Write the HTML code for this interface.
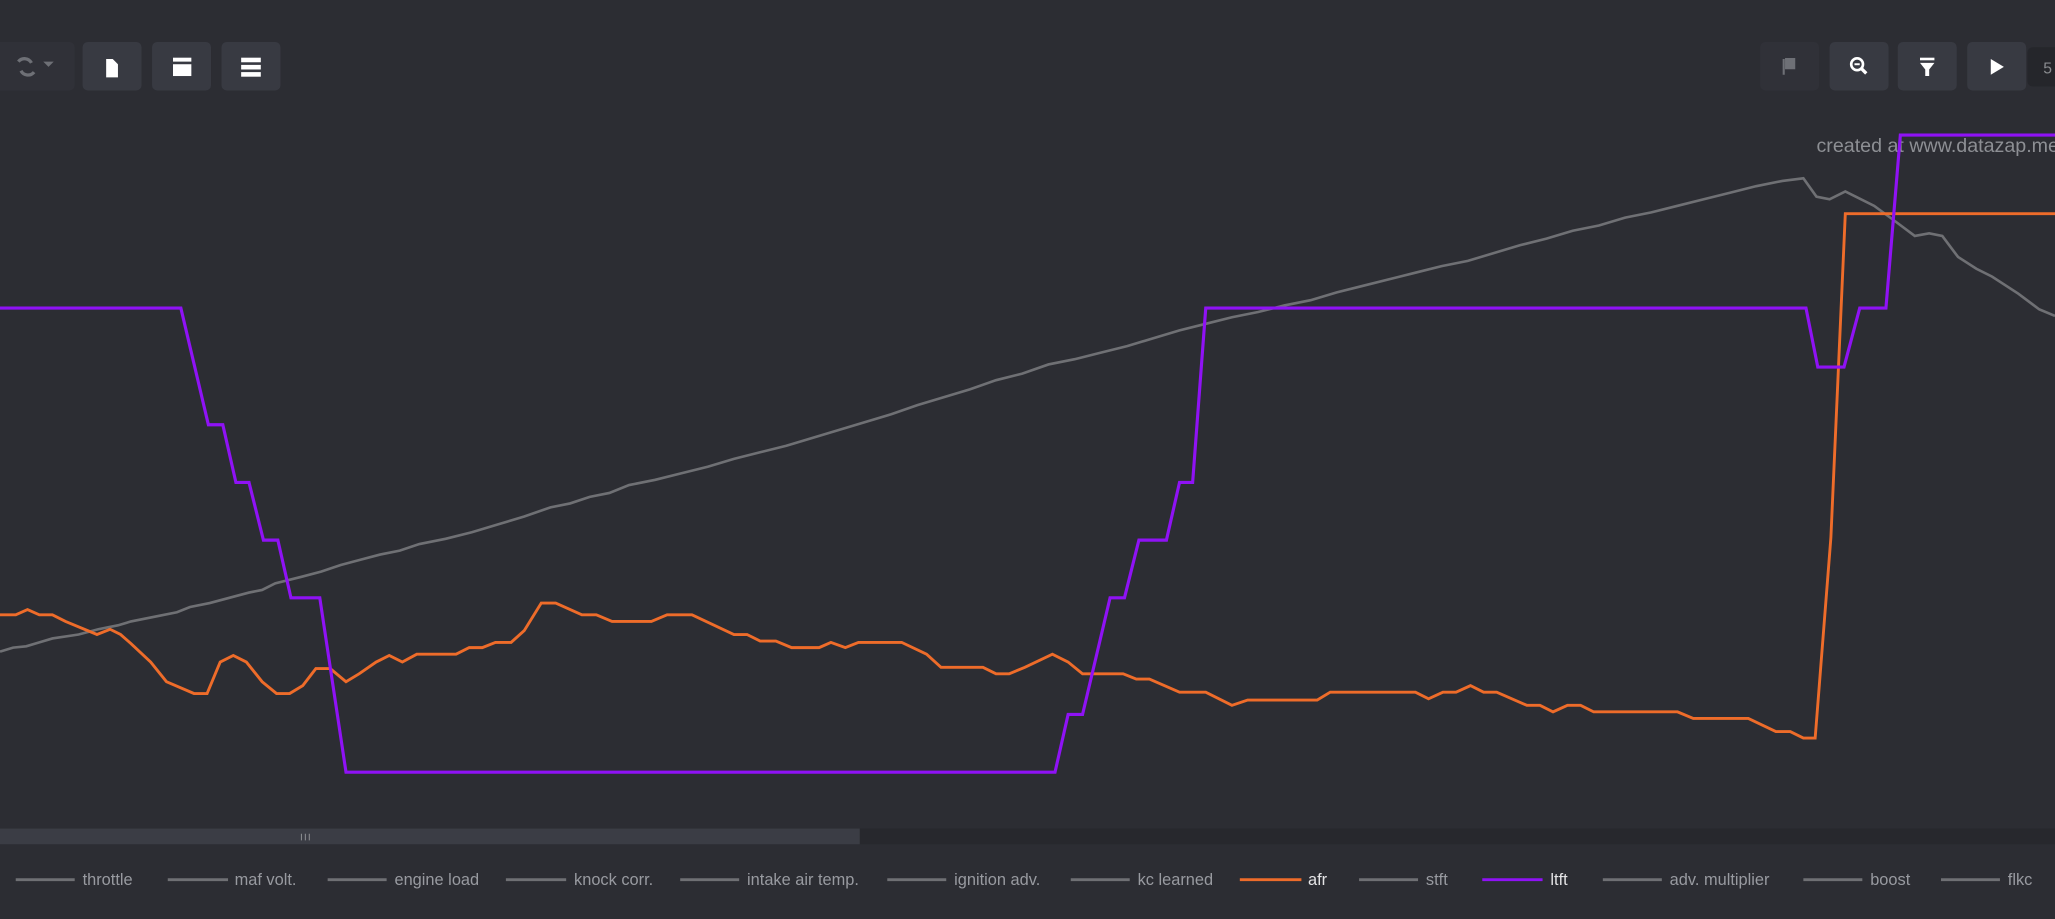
<!DOCTYPE html>
<html><head><meta charset="utf-8"><style>
html,body{margin:0;padding:0;background:#2c2d33;width:2055px;height:919px;overflow:hidden}
svg{display:block}
text{font-family:"Liberation Sans","DejaVu Sans",sans-serif}
</style></head><body>
<svg width="2055" height="919" viewBox="0 0 1568 701" preserveAspectRatio="none">
<rect width="1568" height="701" fill="#2c2d33"/>
<!-- toolbar left -->
<rect x="-5" y="32" width="62" height="37" rx="4" fill="#303138"/>
<path d="M14 47 a6 6 0 0 1 10 1 M26 55 a6 6 0 0 1 -10 -1" stroke="#6e7076" stroke-width="2.5" fill="none"/>
<path d="M33 47 h8 l-4 4z" fill="#6e7076"/>
<rect x="63" y="32" width="45" height="37" rx="4" fill="#383a42"/>
<path d="M81 45 h5 l4 4 v10 h-9z" fill="#fff"/>
<rect x="116" y="32" width="45" height="37" rx="4" fill="#383a42"/>
<rect x="132" y="44" width="14" height="3" fill="#fff"/><rect x="132" y="49" width="14" height="9" fill="#fff"/>
<rect x="169" y="32" width="45" height="37" rx="4" fill="#383a42"/>
<rect x="184" y="44" width="15" height="3.5" fill="#fff"/><rect x="184" y="49.5" width="15" height="3.5" fill="#fff"/><rect x="184" y="55" width="15" height="3.5" fill="#fff"/>
<!-- toolbar right -->
<rect x="1343" y="32" width="45" height="37" rx="4" fill="#303138"/>
<path d="M1361 45 v12 M1362 45 h7 v7 h-7" stroke="#6e7076" stroke-width="1.6" fill="#6e7076"/>
<rect x="1396" y="32" width="45" height="37" rx="4" fill="#383a42"/>
<circle cx="1417" cy="49" r="4.5" stroke="#fff" stroke-width="2" fill="none"/><path d="M1420 52 l4 4" stroke="#fff" stroke-width="2.5"/><path d="M1415 49 h4" stroke="#fff" stroke-width="1.5"/>
<rect x="1448" y="32" width="45" height="37" rx="4" fill="#383a42"/>
<rect x="1465" y="44" width="11" height="2" fill="#fff"/><path d="M1465 48 h11 l-4 5 v5 h-3 v-5z" fill="#fff"/>
<rect x="1501" y="32" width="45" height="37" rx="4" fill="#383a42"/>
<path d="M1519 45 l10 6 l-10 6z" fill="#fff"/>
<rect x="1547" y="36" width="30" height="30" rx="4" fill="#25262b"/>
<text x="1559" y="56" font-size="12" fill="#8a8c90">5</text>
<!-- watermark -->
<text x="1386" y="116" font-size="15" fill="#8d8f94">created at www.datazap.me</text>
<!-- gray line -->
<polyline fill="none" stroke="#6f7074" stroke-width="2" points="0,497 10,494 20,493 30,490 40,487 60,484 75,480 90,477 100,474 120,470 135,467 145,463 160,460 175,456 190,452 200,450 210,445 230,440 245,436 260,431 275,427 290,423 305,420 320,415 340,411 360,406 380,400 400,394 420,387 435,384 450,379 465,376 480,370 500,366 520,361 540,356 560,350 580,345 600,340 620,334 640,328 660,322 680,316 700,309 720,303 740,297 760,290 780,285 800,278 820,274 840,269 860,264 880,258 900,252 920,247 940,242 960,238 980,233 1000,229 1020,223 1040,218 1060,213 1080,208 1100,203 1120,199 1140,193 1160,187 1180,182 1200,176 1220,172 1240,166 1260,162 1280,157 1300,152 1320,147 1340,142 1360,138 1376,136 1386,150 1396,152 1408,146 1430,157 1445,168 1461,180 1472,178 1482,180 1494,196 1508,205 1520,211 1540,224 1556,236 1568,241"/>
<!-- orange afr -->
<polyline fill="none" stroke="#ee6c2a" stroke-width="2.2" points="0,469 12,469 21,465 30,469 40,469 50,474 74,484 84,480 92,484 100,491 115,505 127,520 148,529 158,529 168,505 178,500 188,505 200,520 211,529 221,529 231,523 241,510 252,510 264,520 274,514 287,505 297,500 307,505 318,499 348,499 358,494 368,494 378,490 390,490 400,481 413,460 424,460 444,469 455,469 467,474 497,474 509,469 528,469 560,484 570,484 580,489 592,489 604,494 625,494 634,490 645,494 655,490 688,490 707,499 718,509 750,509 760,514 770,514 782,509 803,499 815,505 826,514 857,514 867,518 877,518 900,528 920,528 940,538 952,534 1005,534 1015,528 1080,528 1090,533 1101,528 1111,528 1122,523 1132,528 1142,528 1165,538 1175,538 1185,543 1196,538 1206,538 1216,543 1280,543 1292,548 1334,548 1355,558 1366,558 1376,563 1385,563 1397,410 1408,163 1568,163"/>
<!-- purple ltft -->
<polyline fill="none" stroke="#8f12f5" stroke-width="2.4" points="0,235 138,235 159,324 170,324 180,368 190,368 201,412 212,412 222,456 244,456 264,589 805,589 815,545 826,545 847,456 858,456 869,412 890,412 900,368 910,368 920,235 1378,235 1387,280 1407,280 1419,235 1439,235 1450,103 1568,103"/>
<!-- scrollbar -->
<rect x="0" y="632" width="1568" height="12" fill="#27282d"/>
<rect x="0" y="632" width="656" height="12" fill="#3b3d45"/>
<path d="M230 636 v5 M233 636 v5 M236 636 v5" stroke="#8a8c90" stroke-width="0.8"/>
<!-- legend -->
<g stroke-width="2.2">
<line x1="12" y1="671" x2="57" y2="671" stroke="#6f7074"/>
<line x1="128" y1="671" x2="174" y2="671" stroke="#6f7074"/>
<line x1="250" y1="671" x2="295" y2="671" stroke="#6f7074"/>
<line x1="386" y1="671" x2="432" y2="671" stroke="#6f7074"/>
<line x1="519" y1="671" x2="564" y2="671" stroke="#6f7074"/>
<line x1="677" y1="671" x2="722" y2="671" stroke="#6f7074"/>
<line x1="817" y1="671" x2="862" y2="671" stroke="#6f7074"/>
<line x1="946" y1="671" x2="993" y2="671" stroke="#ee6c2a"/>
<line x1="1037" y1="671" x2="1082" y2="671" stroke="#6f7074"/>
<line x1="1131" y1="671" x2="1177" y2="671" stroke="#8f12f5"/>
<line x1="1223" y1="671" x2="1268" y2="671" stroke="#6f7074"/>
<line x1="1376" y1="671" x2="1421" y2="671" stroke="#6f7074"/>
<line x1="1481" y1="671" x2="1526" y2="671" stroke="#6f7074"/>
</g>
<g font-size="12.5" fill="#989aa0">
<text x="63" y="675">throttle</text>
<text x="179" y="675">maf volt.</text>
<text x="301" y="675">engine load</text>
<text x="438" y="675">knock corr.</text>
<text x="570" y="675">intake air temp.</text>
<text x="728" y="675">ignition adv.</text>
<text x="868" y="675">kc learned</text>
<text x="998" y="675" fill="#e4e4e6">afr</text>
<text x="1088" y="675">stft</text>
<text x="1183" y="675" fill="#e4e4e6">ltft</text>
<text x="1274" y="675">adv. multiplier</text>
<text x="1427" y="675">boost</text>
<text x="1532" y="675">flkc</text>
</g>
</svg>
</body></html>
